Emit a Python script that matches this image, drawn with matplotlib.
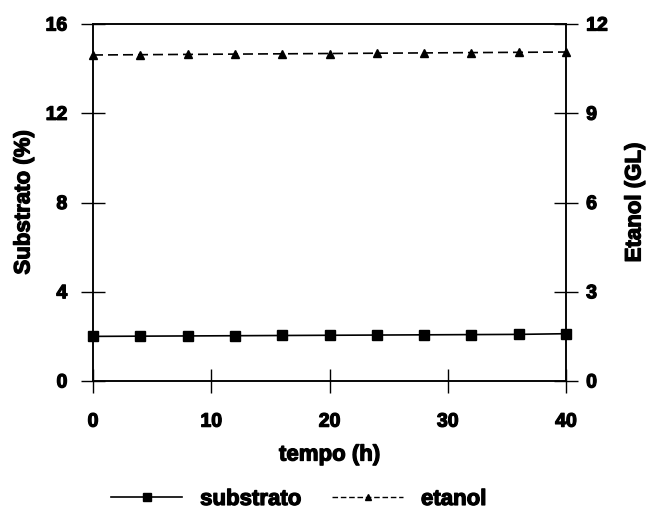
import matplotlib
matplotlib.use("Agg")
import matplotlib.pyplot as plt
import matplotlib.patheffects as pe
from matplotlib.lines import Line2D

plt.rcParams['font.family'] = ['Liberation Sans', 'DejaVu Sans']
plt.rcParams['font.weight'] = 'bold'

tempo = [0, 4, 8, 12, 16, 20, 24, 28, 32, 36, 40]
substrato = [2.0, 2.01, 2.02, 2.03, 2.04, 2.05, 2.06, 2.07, 2.08, 2.09, 2.12]
etanol = [10.96, 10.97, 10.98, 10.99, 11.0, 11.01, 11.02, 11.03, 11.04, 11.05, 11.06]

x_ticks = [0, 10, 20, 30, 40]
left_ticks = [0, 4, 8, 12, 16]
right_ticks = [0, 3, 6, 9, 12]

heavy = [pe.withStroke(linewidth=0.9, foreground='black')]

fig = plt.figure(figsize=(6.61, 5.23), dpi=100)
ax = fig.add_axes([0.1407, 0.2715, 0.7156, 0.6825])
ax2 = ax.twinx()

ax.plot(tempo, substrato, color='black', lw=1.2, marker='s', ms=7, clip_on=False, zorder=3)
ax2.plot(tempo, etanol, color='black', lw=1.2, ls=(0, (6, 3)), marker='^', ms=6, clip_on=False, zorder=3)

ax.set_xlim(0, 40)
ax.set_ylim(0, 16)
ax2.set_ylim(0, 12)
ax.set_xticks(x_ticks)
ax.set_yticks(left_ticks)
ax2.set_yticks(right_ticks)

for a in (ax, ax2):
    for s in a.spines.values():
        s.set_linewidth(1.1)
    a.tick_params(direction='inout', length=17, width=1.0, labelsize=14)

ax.tick_params(axis='x', pad=15)
ax.tick_params(axis='y', pad=10)
ax2.tick_params(axis='y', pad=6)

for lab in ax.get_xticklabels() + ax.get_yticklabels() + ax2.get_yticklabels():
    lab.set_path_effects(heavy)

ax.set_xlabel('tempo (h)', fontsize=16, fontweight='bold', labelpad=10, path_effects=heavy)
ax.set_ylabel('Substrato (%)', fontsize=16, fontweight='bold', labelpad=8, path_effects=heavy)
ax2.set_ylabel('Etanol (GL)', fontsize=16, fontweight='bold', labelpad=12, path_effects=heavy)

handles = [
    Line2D([], [], color='black', lw=1.2, marker='s', ms=6),
    Line2D([], [], color='black', lw=1.0, ls=(0, (4, 2)), marker='^', ms=5),
]
leg = fig.legend(handles, ['substrato', 'etanol'], loc='center', bbox_to_anchor=(0.452, 0.045),
                 ncol=2, frameon=False, fontsize=16, handlelength=3.2, columnspacing=1.4,
                 handletextpad=0.8)
for t in leg.get_texts():
    t.set_path_effects(heavy)

fig.savefig('out.png', dpi=100)
